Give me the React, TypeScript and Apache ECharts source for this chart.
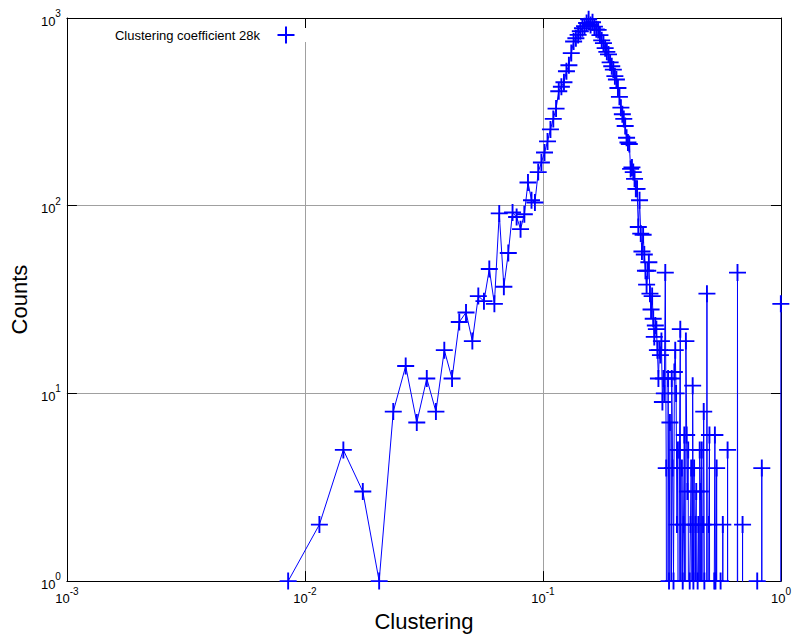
import React, { useEffect, useRef } from 'react';
import * as echarts from 'echarts';

const SERIES_NAME = 'Clustering coefficient 28k';
const X_NAME = 'Clustering';
const Y_NAME = 'Counts';

const clustering = [
  0.0085, 0.0115, 0.0145, 0.0175, 0.0205, 0.0235, 0.0265, 0.0295, 0.0325, 0.0355,
  0.0385, 0.0415, 0.0445, 0.0475, 0.0505, 0.0535, 0.0565, 0.0595, 0.0625, 0.0655,
  0.0685, 0.0715, 0.0745, 0.0775, 0.0805, 0.0835, 0.0865, 0.0895, 0.0925, 0.0955,
  0.0985, 0.1015, 0.1045, 0.1075, 0.1105, 0.1135, 0.1165, 0.1195, 0.1225, 0.1255,
  0.1285, 0.1315, 0.1345, 0.1375, 0.1405, 0.1435, 0.1465, 0.1495, 0.1525, 0.1555,
  0.1585, 0.1615, 0.1645, 0.1675, 0.1705, 0.1735, 0.1765, 0.1795, 0.1825, 0.1855,
  0.1885, 0.1915, 0.1945, 0.1975, 0.2005, 0.2035, 0.2065, 0.2095, 0.2125, 0.2155,
  0.2185, 0.2215, 0.2245, 0.2275, 0.2305, 0.2335, 0.2365, 0.2395, 0.2425, 0.2455,
  0.2485, 0.2515, 0.2545, 0.2575, 0.2605, 0.2635, 0.2665, 0.2695, 0.2725, 0.2755,
  0.2785, 0.2815, 0.2845, 0.2875, 0.2905, 0.2935, 0.2965, 0.2995, 0.3025, 0.3055,
  0.3085, 0.3115, 0.3145, 0.3175, 0.3205, 0.3235, 0.3265, 0.3295, 0.3325, 0.3355,
  0.3385, 0.3415, 0.3445, 0.3475, 0.3505, 0.3535, 0.3565, 0.3595, 0.3625, 0.3655,
  0.3685, 0.3715, 0.3745, 0.3775, 0.3805, 0.3835, 0.3865, 0.3895, 0.3925, 0.3955,
  0.3985, 0.4015, 0.4045, 0.4075, 0.4105, 0.4135, 0.4165, 0.4195, 0.4225, 0.4255,
  0.4285, 0.4315, 0.4345, 0.4375, 0.4405, 0.4435, 0.4465, 0.4495, 0.4525, 0.4555,
  0.4585, 0.4615, 0.4645, 0.4675, 0.4705, 0.4735, 0.4765, 0.4795, 0.4825, 0.4855,
  0.4885, 0.4915, 0.4945, 0.4975, 0.5005, 0.5035,
  0.5215, 0.5245, 0.5275, 0.5305, 0.5335, 0.5365, 0.5395,
  0.5545, 0.5575, 0.5605, 0.5665, 0.5695, 0.5725, 0.5935, 0.5965, 0.5995,
  0.6535, 0.6565, 0.6595, 0.6865, 0.6895, 0.6925, 0.7915, 0.7945, 0.7975,
  0.8275, 0.8305, 0.8335, 0.9955, 0.9985,
];

const counts = [
  1, 2, 5, 3, 1, 8, 14, 7, 12, 8,
  17, 12, 24, 27, 19, 33, 31, 46, 30, 91,
  37, 56, 92, 87, 75, 90, 133, 107, 104, 151,
  170, 192, 220, 255, 290, 329, 407, 430, 455, 520,
  560, 650, 750, 780, 813, 850, 882, 905, 940, 985,
  918, 950, 900, 870, 864, 810, 760, 735, 691, 660,
  640, 580, 553, 531, 490, 470, 424, 380, 333, 307,
  290, 266, 230, 217, 213, 157, 160, 151, 139, 123,
  123, 77, 107, 71, 57, 70, 55, 45, 38, 45,
  50, 34, 28, 33, 25, 20, 23, 22, 17, 12,
  17, 16, 19, 9, 12, 10, 44, 4, 0, 12,
  1, 7, 0, 12, 4, 1, 13, 17, 10, 2,
  5, 0, 5, 22, 0, 4, 1, 2, 6, 0,
  19, 6, 3, 5, 0, 1, 2, 4, 0, 11,
  1, 4, 0, 2, 3, 0, 1, 2, 0, 5,
  3, 0, 5, 0, 2, 8, 1, 0, 0, 0,
  34, 0, 0, 2, 6, 0,
  0, 1, 6, 1, 0, 4, 0,
  0, 1, 0, 0, 2, 0, 0, 5, 0,
  0, 44, 0, 0, 2, 0, 0, 1, 0,
  0, 4, 0, 0, 30,
];

const X_MIN = 0.001;
const X_MAX = 1;
const Y_MIN = 1;
const Y_MAX = 1000;
// empty bins (log of 0) are sent far below the axis so that their lines drop off the plot
const EMPTY_BIN_FLOOR = 1e-3;

const FONT = '"Liberation Sans", Arial, Helvetica, sans-serif';
const BLUE = '#0000ff';
const PLUS = 'path://M8,0H10V18H8Z M0,8H18V10H0Z';

const powerLabel = (v: number) => `{b|10}{s|${Math.round(Math.log10(v))}}`;
const richPow = {
  b: { fontSize: 13, fontFamily: FONT, color: '#000', lineHeight: 19, verticalAlign: 'bottom' },
  s: { fontSize: 10, fontFamily: FONT, color: '#000', lineHeight: 9, verticalAlign: 'top' },
};

export default function App() {
  const ref = useRef<HTMLDivElement>(null);
  useEffect(() => {
    if (!ref.current) return;
    const chart = echarts.init(ref.current, undefined, { renderer: 'svg' });
    const data = clustering.map((x, i) =>
      counts[i] > 0
        ? { value: [x, counts[i]] }
        : { value: [x, EMPTY_BIN_FLOOR], symbol: 'none' }
    );
    const tick = { show: true, inside: true, length: 10, lineStyle: { color: '#000', width: 1 } };
    const axisLine = { show: true, lineStyle: { color: '#000', width: 1 } };
    const split = { show: true, showMinLine: false, showMaxLine: false, lineStyle: { color: '#a0a0a0', width: 1 } };
    const option: any = {
      animation: false,
      backgroundColor: '#fff',
      grid: { left: 62, right: 14, top: 18, bottom: 52, containLabel: false },
      xAxis: [
        {
          type: 'log', logBase: 10, min: X_MIN, max: X_MAX, position: 'bottom',
          name: X_NAME, nameLocation: 'middle', nameGap: 24,
          nameTextStyle: { fontSize: 22, fontFamily: FONT, color: '#000' },
          axisLine, axisTick: tick, splitLine: split, minorTick: { show: false },
          axisLabel: { margin: 5, formatter: powerLabel, rich: richPow },
        },
        {
          type: 'log', logBase: 10, min: X_MIN, max: X_MAX, position: 'top',
          axisLine, axisTick: tick, splitLine: { show: false }, axisLabel: { show: false },
        },
      ],
      yAxis: [
        {
          type: 'log', logBase: 10, min: Y_MIN, max: Y_MAX, position: 'left',
          name: Y_NAME, nameLocation: 'middle', nameGap: 36,
          nameTextStyle: { fontSize: 22, fontFamily: FONT, color: '#000' },
          axisLine, axisTick: tick, splitLine: split, minorTick: { show: false },
          axisLabel: { margin: 6, formatter: powerLabel, rich: richPow },
        },
        {
          type: 'log', logBase: 10, min: Y_MIN, max: Y_MAX, position: 'right',
          axisLine, axisTick: tick, splitLine: { show: false }, axisLabel: { show: false },
        },
      ],
      series: [
        {
          name: SERIES_NAME,
          type: 'line',
          xAxisIndex: 0,
          yAxisIndex: 0,
          data,
          symbol: PLUS,
          symbolSize: 17,
          showAllSymbol: true,
          clip: true,
          silent: true,
          lineStyle: { color: BLUE, width: 1 },
          itemStyle: { color: BLUE },
          emphasis: { disabled: true },
          z: 5,
        },
      ],
      graphic: [
        { type: 'rect', z: 50, shape: { x: 100, y: 28, width: 206, height: 14 }, style: { fill: '#fff' } },
        {
          type: 'text', z: 51, x: 260, y: 35,
          style: { text: SERIES_NAME, fontSize: 13, fontFamily: FONT, fill: '#000', textAlign: 'right', textVerticalAlign: 'middle' },
        },
        { type: 'line', z: 51, shape: { x1: 277.5, y1: 35, x2: 294.5, y2: 35 }, style: { stroke: BLUE, lineWidth: 2 } },
        { type: 'line', z: 51, shape: { x1: 286, y1: 26.5, x2: 286, y2: 43.5 }, style: { stroke: BLUE, lineWidth: 2 } },
      ],
    };
    chart.setOption(option);
    return () => chart.dispose();
  }, []);
  return <div ref={ref} style={{ position: 'fixed', left: 0, top: 0, width: 795, height: 637 }} />;
}
